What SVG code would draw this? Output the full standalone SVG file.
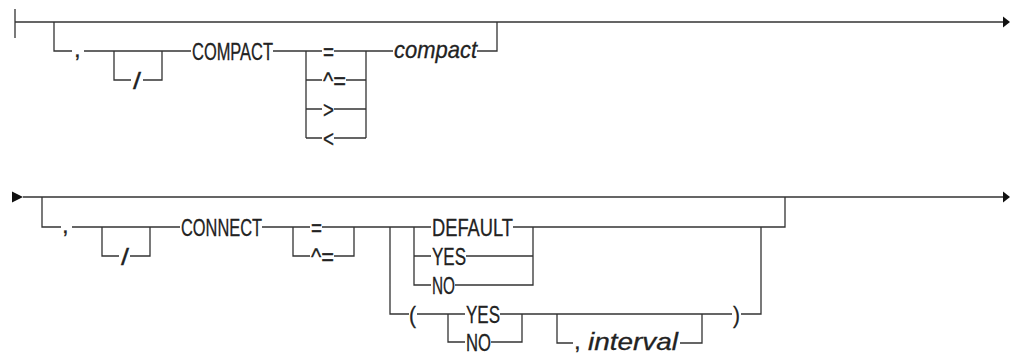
<svg xmlns="http://www.w3.org/2000/svg" width="1010" height="354" viewBox="0 0 1010 354">
<style>
.ln{fill:none;stroke:#333;stroke-width:1.3}
.ar{fill:#111}
text{font-family:"Liberation Sans",Arial,sans-serif;font-size:24px;fill:#222;stroke:#222;stroke-width:0.3}
.it{font-style:italic}
</style>
<rect width="1010" height="354" fill="#fff"/>
<g id="connectors">
<path class="ln" d="M15,9V38M15,22H1003"/>
<path class="ln" d="M54,22V51H72M84,51H191M114,51V80H131M143,80H162V51"/>
<path class="ln" d="M273,51H322M306,51V138M306,80H322M346,80H366M306,109H322M334,109H366M306,138H322M334,138H366M366,51V138M334,51H393M477,51H497V22"/>
<path class="ln" d="M23,197H1003M42,197V227H61M72,227H180M102,227V256H119M130,256H150V227"/>
<path class="ln" d="M262,227H310M293,227V256H310M334,256H354V227M322,227H431"/>
<path class="ln" d="M390,227V314H409M414,227V285H431M414,256H431M513,227H785V197M466,256H533M455,285H533V227"/>
<path class="ln" d="M417,314H465M448,314V342H465M500,314H732M491,342H522V314M557,314V343H573M680,343H702V314M741,314H761V227"/>
<polygon class="ar" points="1003,16.5 1010,22 1003,27.5"/>
<polygon class="ar" points="12,191.5 23,197 12,202.5"/>
<polygon class="ar" points="1003,191.5 1010,197 1003,202.5"/>
</g>
<g id="n-comma1"><text x="74" y="57">,</text></g>
<g id="n-slash1"><text x="133" y="88.5" textLength="8" lengthAdjust="spacingAndGlyphs">/</text></g>
<g id="n-compact-kw"><text x="192" y="59.5" textLength="81" lengthAdjust="spacingAndGlyphs">COMPACT</text></g>
<g id="n-eq1"><text x="323" y="59.5" textLength="11" lengthAdjust="spacingAndGlyphs">=</text></g>
<g id="n-neq1"><text x="323" y="88.5" textLength="23" lengthAdjust="spacingAndGlyphs">^=</text></g>
<g id="n-gt"><text x="323" y="117.5" textLength="11" lengthAdjust="spacingAndGlyphs">&gt;</text></g>
<g id="n-lt"><text x="323" y="146.5" textLength="11" lengthAdjust="spacingAndGlyphs">&lt;</text></g>
<g id="n-compact-var"><text class="it" x="394" y="57.5" textLength="83" lengthAdjust="spacingAndGlyphs">compact</text></g>
<g id="n-comma2"><text x="62" y="233">,</text></g>
<g id="n-slash2"><text x="121" y="264.5" textLength="8" lengthAdjust="spacingAndGlyphs">/</text></g>
<g id="n-connect-kw"><text x="181" y="235.5" textLength="81" lengthAdjust="spacingAndGlyphs">CONNECT</text></g>
<g id="n-eq2"><text x="311" y="235.5" textLength="11" lengthAdjust="spacingAndGlyphs">=</text></g>
<g id="n-neq2"><text x="311" y="264.5" textLength="23" lengthAdjust="spacingAndGlyphs">^=</text></g>
<g id="n-default"><text x="432" y="235.5" textLength="81" lengthAdjust="spacingAndGlyphs">DEFAULT</text></g>
<g id="n-yes1"><text x="432" y="264.5" textLength="34" lengthAdjust="spacingAndGlyphs">YES</text></g>
<g id="n-no1"><text x="432" y="293.5" textLength="23" lengthAdjust="spacingAndGlyphs">NO</text></g>
<g id="n-lparen"><text x="409" y="322.5" textLength="7" lengthAdjust="spacingAndGlyphs">(</text></g>
<g id="n-yes2"><text x="466" y="322.5" textLength="34" lengthAdjust="spacingAndGlyphs">YES</text></g>
<g id="n-no2"><text x="466" y="350.5" textLength="25" lengthAdjust="spacingAndGlyphs">NO</text></g>
<g id="n-interval"><text x="574" y="349">,</text><text class="it" x="588" y="349.5" textLength="90" lengthAdjust="spacingAndGlyphs">interval</text></g>
<g id="n-rparen"><text x="733" y="322.5" textLength="7" lengthAdjust="spacingAndGlyphs">)</text></g>
</svg>
